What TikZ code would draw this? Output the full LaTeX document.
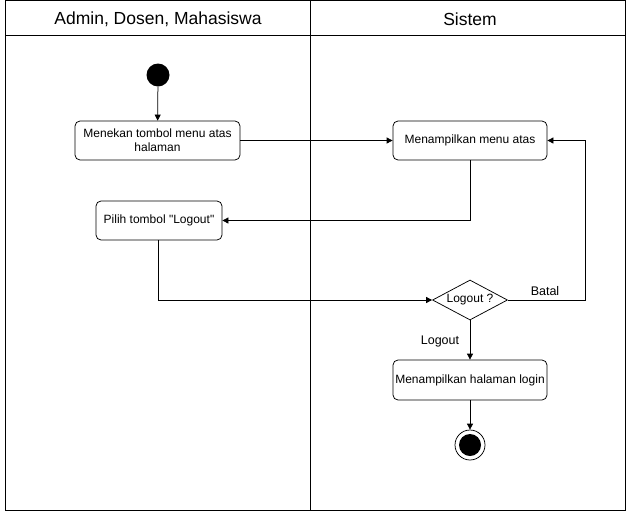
\documentclass[tikz,border=0pt]{standalone}
\usepackage{fontspec}
\setmainfont{Liberation Sans}[Ligatures=TeXOff]
\usetikzlibrary{arrows.meta,shapes.geometric}
\begin{document}
\begin{tikzpicture}[x=1pt,y=-1pt,line width=0.75pt,
  act/.style={draw,rounded corners=5pt,align=center,font=\fontsize{12}{14}\selectfont,inner sep=2pt},
  flow/.style={draw,-{Triangle[length=6pt,width=6pt]}},
  lbl/.style={font=\fontsize{12.5}{14}\selectfont},
  head/.style={font=\fontsize{17.5}{20}\selectfont}]
\useasboundingbox (0,0) rectangle (626,512);
\draw (5,0) rectangle (625,510);
\draw (5,35) -- (625,35);
\draw (310,0) -- (310,510);
\node[head] (h1) at (158,19) {Admin, Dosen, Mahasiswa};
\node[head] (h2) at (470,19) {Sistem};
\node[circle,fill=black,minimum size=23pt,inner sep=0] (start) at (158,75) {};
\node[act,minimum width=165pt,minimum height=39pt] (a1) at (157.5,140.5) {Menekan tombol menu atas\\halaman};
\node[act,minimum width=154pt,minimum height=39pt] (a2) at (470,140.5) {Menampilkan menu atas};
\node[act,minimum width=126pt,minimum height=39pt] (a3) at (159,220.5) {Pilih tombol "Logout"};
\node[diamond,draw,shape aspect=1.875,minimum width=75pt,minimum height=40pt,inner sep=0,font=\fontsize{12}{14}\selectfont] (d) at (470,300) {Logout ?};
\node[act,minimum width=154pt,minimum height=40pt] (a4) at (470,380) {Menampilkan halaman login};
\node[circle,draw,minimum size=30pt,inner sep=0] (end) at (470,445) {};
\node[circle,fill=black,minimum size=22pt,inner sep=0] (endin) at (end) {};
\coordinate (c1) at (470,220.5);
\coordinate (c2) at (158,300);
\coordinate (c3) at (585,300);
\coordinate (c4) at (585,140.5);
\draw[flow] (start) -- (a1);
\draw[flow] (a1) -- (a2);
\draw[flow] (a2.south) -- (c1) -- (a3.east);
\draw[flow] (a3.south -| c2) -- (c2) -- (d.west);
\draw[flow] (d.east) -- (c3) -- (c4) -- (a2.east);
\draw[flow] (d) -- (a4);
\draw[flow] (a4) -- (end);
\node[lbl] (l1) at (545,291) {Batal};
\node[lbl] (l2) at (440,341) {Logout};
\end{tikzpicture}
\end{document}
